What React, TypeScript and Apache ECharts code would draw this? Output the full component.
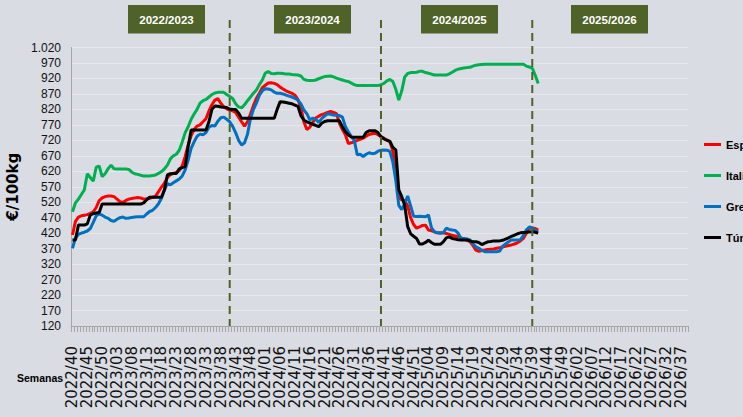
import React, { useEffect, useRef } from "react";
import * as echarts from "echarts";

// ---- categories (weeks) ----
const weekSpans: [number, number, number][] = [
  [2022, 40, 52],
  [2023, 1, 52],
  [2024, 1, 52],
  [2025, 1, 52],
  [2026, 1, 39],
];
function buildWeeks(): string[] {
  const out: string[] = [];
  for (const [y, a, b] of weekSpans) {
    for (let w = a; w <= b; w++) out.push(`${y}/${String(w).padStart(2, "0")}`);
  }
  return out;
}
const weeks = buildWeeks();

// ---- season annotations ----
const seasonLabels = ["2022/2023", "2023/2024", "2024/2025", "2025/2026"];
const seasonStartWeeks = ["2023/41", "2024/40", "2025/39"];

// ---- series values (€/100kg), weekly from 2022/40 ----
const espana = [
  414, 458, 472, 476, 478, 480, 484, 489, 503, 525,
  534, 538, 540, 540, 538, 530, 522, 519, 526, 530,
  532, 534, 535, 534, 530, 531, 533, 536, 540, 554,
  569, 582, 600, 609, 613, 616, 622, 638, 668, 705,
  735, 755, 766, 770, 780, 790, 815, 835, 850, 855,
  840, 828, 822, 818, 815, 810, 795, 780, 766, 780,
  805, 832, 856, 872, 890, 898, 905, 906, 904, 900,
  892, 886, 880, 876, 872, 866, 852, 825, 780, 755,
  762, 778, 792, 798, 803, 806, 810, 813, 810, 806,
  775, 755, 738, 710, 712, 716, 720, 723, 727, 733,
  739, 741, 743, 738, 732, 727, 720, 716, 685, 610,
  535, 528, 526, 508, 470, 448, 436, 440, 445, 446,
  430, 428, 424, 421, 421, 421, 419, 416, 413, 411,
  409, 405, 401, 397, 393, 380, 365, 361, 364, 366,
  367, 368, 369, 371, 373, 375, 378, 380, 382, 385,
  389, 395, 403, 420, 436, 437, 435, 430,
];
const italia = [
  489, 518, 530, 545, 560, 612, 600, 588, 633, 637,
  603, 612, 628, 640, 628, 627, 627, 627, 627, 626,
  617, 612, 610, 607, 605, 605, 605, 606, 608, 613,
  619, 628, 640, 660, 670, 675, 688, 715, 745, 764,
  788, 805, 820, 840, 848, 852, 860, 868, 873, 875,
  875, 875, 868, 862, 855, 838, 828, 825, 835, 848,
  860, 872, 883, 900, 915, 937, 942, 936, 935, 937,
  937, 936, 934, 934, 933, 932, 931, 928, 917, 914,
  913, 913, 915, 919, 923, 926, 927, 928, 925, 921,
  918, 915, 912, 910, 905, 900, 897, 897, 897, 897,
  897, 897, 897, 897, 900, 904, 912, 917, 910, 885,
  850, 880, 925, 936, 939, 939, 940, 943, 943, 939,
  937, 934, 931, 931, 931, 931, 931, 935, 940, 946,
  950, 952, 954, 955, 956, 960, 963, 964, 965, 966,
  966, 966, 966, 966, 966, 966, 966, 966, 966, 966,
  966, 966, 966, 960, 957, 953, 930, 904,
];
const grecia = [
  371, 405, 416, 420, 423, 427, 435, 455, 476, 482,
  478, 472, 468, 461, 458, 465, 470, 472, 468, 469,
  471, 472, 473, 473, 473, 482, 490, 494, 503, 515,
  533, 560, 580, 576, 583, 589, 595, 605, 625, 656,
  694, 715, 733, 740, 738, 745, 762, 768, 766, 782,
  793, 795, 788, 780, 765, 745, 720, 705, 712, 740,
  790, 820, 840, 866, 880, 887, 886, 883, 876, 872,
  872, 870, 866, 863, 860, 856, 850, 838, 818, 806,
  786, 792, 788, 778, 790, 798, 806, 804, 802, 801,
  800, 795, 765, 748, 732, 720, 673, 675, 668, 675,
  680, 677, 678, 685, 688, 689, 688, 684, 650, 590,
  510, 496, 515, 540, 508, 475, 474, 475, 474, 473,
  479, 438, 425, 421, 420, 421, 436, 432, 430, 429,
  420, 403, 403, 401, 398, 385, 376, 371, 365, 360,
  360, 360, 360, 360, 362, 378, 385, 392, 398, 398,
  398, 399, 412, 430, 440, 437, 428, 425,
];
const tunez = [
  398, 398, 446, 446, 446, 450, 479, 483, 485, 487,
  514, 514, 514, 514, 514, 514, 514, 514, 514, 514,
  514, 514, 514, 514, 518, 528, 536, 536, 536, 536,
  536, 560, 608, 612, 613, 613, 628, 632, 635, 700,
  753, 753, 753, 753, 753, 753, 780, 820, 831, 830,
  828, 827, 826, 821, 820, 820, 808, 791, 791, 791,
  791, 791, 791, 791, 791, 791, 791, 791, 791, 820,
  845, 844, 842, 840, 838, 834, 830, 800, 786, 780,
  776, 772, 768, 764, 775, 781, 783, 783, 783, 783,
  783, 764, 748, 737, 731, 730, 730, 730, 730, 745,
  751, 751, 751, 745, 732, 725, 721, 717, 697, 689,
  560, 538, 510, 441, 418, 410, 403, 385, 385, 390,
  397, 390, 384, 384, 384, 392, 405, 408, 403, 401,
  399, 398, 398, 398, 395, 392, 392, 390, 383, 388,
  392, 393, 395, 395, 395, 397, 401, 405, 410, 414,
  418, 421, 422, 423, 424, 425, 423, 420,
];

const seriesNames = ["España", "Italia", "Grecia", "Túnez"];
const seriesColors = ["#ff0000", "#00b050", "#0070c0", "#000000"];
const seriesValues = [espana, italia, grecia, tunez];

const SANS = "'Liberation Sans', Arial, sans-serif";
const OLIVE = "#4f6228";

function fmtY(v: number): string {
  if (v >= 1000) {
    return `${Math.floor(v / 1000)}.${String(v % 1000).padStart(3, "0")}`;
  }
  return String(v);
}

export default function App() {
  const ref = useRef<HTMLDivElement | null>(null);

  useEffect(() => {
    if (!ref.current) return;
    const chart = echarts.init(ref.current, undefined, { renderer: "svg" });
    chart.setOption({
      animation: false,
      backgroundColor: "#d9dce3",
      grid: {
        left: 71,
        right: 55,
        top: 47.5,
        bottom: 91,
        containLabel: false,
        outerBoundsMode: "none",
      },
      legend: {
        orient: "vertical",
        left: 699,
        top: 134,
        itemWidth: 17,
        itemHeight: 14,
        itemGap: 20,
        icon: "path://M0,0H17V3H0Z",
        data: seriesNames,
        textStyle: { fontFamily: SANS, fontWeight: "bold", fontSize: 11, color: "#000" },
      },
      xAxis: {
        type: "category",
        data: weeks,
        boundaryGap: true,
        axisLine: { show: true, lineStyle: { color: "#a6a6a6", width: 1 } },
        axisTick: { show: true, interval: 0, length: 6, lineStyle: { color: "#a6a6a6" } },
        axisLabel: {
          interval: 4,
          rotate: 90,
          fontFamily: "'DejaVu Sans', sans-serif",
          fontSize: 15,
          color: "#111",
          margin: 20,
        },
        splitLine: { show: false },
      },
      yAxis: {
        type: "value",
        min: 120,
        max: 1020,
        interval: 50,
        name: "€/100kg",
        nameLocation: "middle",
        nameRotate: 90,
        nameGap: 37,
        nameTextStyle: { fontFamily: "'DejaVu Sans', sans-serif", fontWeight: "bold", fontSize: 15, color: "#000" },
        axisLine: { show: true, lineStyle: { color: "#a6a6a6" } },
        axisTick: { show: false },
        axisLabel: { formatter: fmtY, fontFamily: SANS, fontSize: 12, color: "#111", margin: 10 },
        splitLine: { show: true, lineStyle: { color: "#e5e7eb", width: 1 } },
      },
      series: seriesNames.map((name, k) => ({
        name,
        type: "line",
        data: seriesValues[k],
        symbol: "none",
        smooth: false,
        color: seriesColors[k],
        itemStyle: { color: seriesColors[k] },
        lineStyle: { color: seriesColors[k], width: 3 },
      })),
    });

    const yTop = 20;
    const yBottom = chart.convertToPixel({ yAxisIndex: 0 }, 120) as number;
    const graphics: any[] = [];
    seasonStartWeeks.forEach((wk) => {
      const px = chart.convertToPixel({ xAxisIndex: 0 }, wk) as number;
      graphics.push({
        type: "line",
        shape: { x1: px, y1: yTop, x2: px, y2: yBottom },
        style: { stroke: OLIVE, lineWidth: 2, lineDash: [8, 5] },
        z: 10,
      });
    });
    const boxX = [128, 274, 421, 571];
    seasonLabels.forEach((lab, k) => {
      graphics.push({
        type: "rect",
        shape: { x: boxX[k], y: 5, width: 77, height: 28.5 },
        style: { fill: OLIVE },
        z: 20,
      });
      graphics.push({
        type: "text",
        x: boxX[k] + 38.5,
        y: 19.5,
        style: {
          text: lab,
          fill: "#ffffff",
          font: `bold 11.5px ${SANS}`,
          align: "center",
          verticalAlign: "middle",
        },
        z: 21,
      });
    });
    graphics.push({
      type: "text",
      x: 17,
      y: 378,
      style: {
        text: "Semanas",
        fill: "#000",
        font: `bold 10.5px ${SANS}`,
        align: "left",
        verticalAlign: "middle",
      },
      z: 21,
    });
    chart.setOption({ graphic: graphics });

    return () => {
      chart.dispose();
    };
  }, []);

  return (
    <div
      ref={ref}
      style={{ position: "absolute", left: 0, top: 0, width: 743, height: 417 }}
    />
  );
}
